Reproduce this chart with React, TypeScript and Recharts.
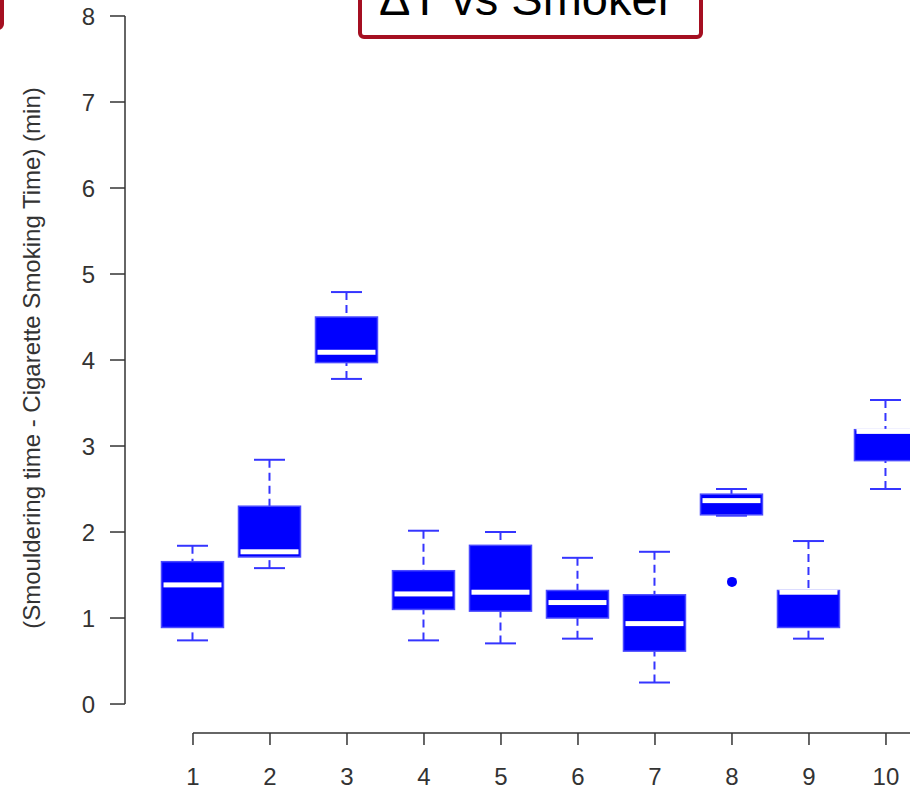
import React from 'react';
import { ComposedChart, Bar, Scatter, XAxis, YAxis, ReferenceLine } from 'recharts';

// five-number summaries per smoker (minutes)
const smokers = [1, 2, 3, 4, 5, 6, 7, 8, 9, 10];
const lowerWhisker = [0.74, 1.58, 3.78, 0.74, 0.705, 0.76, 0.25, 2.19, 0.76, 2.5];
const lowerQuartile = [0.89, 1.71, 3.97, 1.1, 1.08, 1.0, 0.615, 2.2, 0.89, 2.83];
const medians = [1.385, 1.77, 4.09, 1.28, 1.3, 1.18, 0.935, 2.365, 1.3, 3.17];
const upperQuartile = [1.655, 2.3, 4.5, 1.55, 1.845, 1.32, 1.27, 2.44, 1.32, 3.19];
const upperWhisker = [1.84, 2.84, 4.79, 2.015, 2.0, 1.7, 1.77, 2.5, 1.895, 3.535];

const outlierSmokers = [8];
const outlierValues = [1.42];

const yTicks = [0, 1, 2, 3, 4, 5, 6, 7, 8];

const boxData = smokers.map((s, i) => ({
  smoker: s,
  lo: lowerWhisker[i],
  q1: lowerQuartile[i],
  med: medians[i],
  q3: upperQuartile[i],
  hi: upperWhisker[i],
}));

const outlierData = outlierSmokers.map((s, i) => ({ smoker: s, value: outlierValues[i] }));

const X_DOMAIN: [number, number] = [0.117, 10.312];
const Y_DOMAIN: [number, number] = [-0.337, 8.186];

const FONT = "'Liberation Sans', Arial, sans-serif";
const AXIS = '#333';
const BLUE = '#0000ff';

const BoxShape = (props: any) => {
  const { x, y, width, height, payload } = props;
  const top = Math.min(y, y + height);
  const h = Math.abs(height);
  const ppu = h / (payload.q3 - payload.q1);
  const toY = (v: number) => top + (payload.q3 - v) * ppu;
  const cx = x + width / 2;
  const cap = width / 4;
  const whisker = { stroke: '#3535ff', strokeWidth: 2 };
  return (
    <g>
      <line x1={cx} x2={cx} y1={toY(payload.hi)} y2={top} {...whisker} strokeDasharray="8 5" />
      <line x1={cx} x2={cx} y1={toY(payload.lo)} y2={top + h} {...whisker} strokeDasharray="8 5" />
      <line x1={cx - cap} x2={cx + cap} y1={toY(payload.hi)} y2={toY(payload.hi)} {...whisker} />
      <line x1={cx - cap} x2={cx + cap} y1={toY(payload.lo)} y2={toY(payload.lo)} {...whisker} />
      <rect x={x} y={top} width={width} height={h} fill={BLUE} stroke="#4a4aff" strokeWidth={1.5} />
      <rect x={x + 2} y={toY(payload.med) - 2.5} width={width - 4} height={5} fill="#fff" />
    </g>
  );
};

const OutlierDot = (props: any) => <circle cx={props.cx} cy={props.cy} r={5} fill={BLUE} />;

const YTitle = () => (
  <text
    x={31}
    y={358}
    transform="rotate(-90 31 358)"
    textAnchor="middle"
    dominantBaseline="central"
    fontSize={24}
    fontFamily={FONT}
    fill={AXIS}
  >
    (Smouldering time - Cigarette Smoking Time) (min)
  </text>
);

export default function App() {
  return (
    <div style={{ position: 'absolute', left: 0, top: 0, width: 910, height: 790, background: '#fff' }}>
      <ComposedChart
        width={910}
        height={790}
        data={boxData}
        margin={{ top: 0, right: 0, bottom: 0, left: 0 }}
      >
        <XAxis
          type="number"
          dataKey="smoker"
          domain={X_DOMAIN}
          allowDataOverflow
          ticks={smokers}
          interval={0}
          height={57}
          axisLine={false}
          tickSize={12}
          tickMargin={23}
          tickLine={{ stroke: AXIS, strokeWidth: 1.5 }}
          tick={{ fontSize: 24, fill: AXIS, fontFamily: FONT }}
        />
        <YAxis
          type="number"
          domain={Y_DOMAIN}
          allowDataOverflow
          ticks={yTicks}
          interval={0}
          width={125}
          axisLine={false}
          tickSize={15}
          tickMargin={15}
          tickLine={{ stroke: AXIS, strokeWidth: 1.5 }}
          tick={{ fontSize: 24, fill: AXIS, fontFamily: FONT }}
          label={<YTitle />}
        />
        <ReferenceLine
          segment={[{ x: 1, y: Y_DOMAIN[0] }, { x: X_DOMAIN[1], y: Y_DOMAIN[0] }]}
          stroke={AXIS}
          strokeWidth={1.5}
          ifOverflow="visible"
        />
        <ReferenceLine
          segment={[{ x: X_DOMAIN[0], y: 0 }, { x: X_DOMAIN[0], y: 8 }]}
          stroke={AXIS}
          strokeWidth={1.5}
          ifOverflow="visible"
        />
        <Bar
          dataKey={(d: any) => [d.q1, d.q3]}
          barSize={62}
          shape={<BoxShape />}
          isAnimationActive={false}
        />
        <Scatter data={outlierData} dataKey="value" shape={<OutlierDot />} isAnimationActive={false} />

        {/* title box, top edge runs off the page */}
        <rect x={360} y={-30} width={341} height={67} rx={4} fill="#fff" stroke="#a50f21" strokeWidth={4} />
        <text x={379} y={15} fontSize={47} fontFamily={FONT} fill="#000">
          ΔT vs Smoker
        </text>
        <rect x={-100} y={-30} width={102} height={58} rx={4} fill="none" stroke="#a50f21" strokeWidth={4} />
      </ComposedChart>
    </div>
  );
}
